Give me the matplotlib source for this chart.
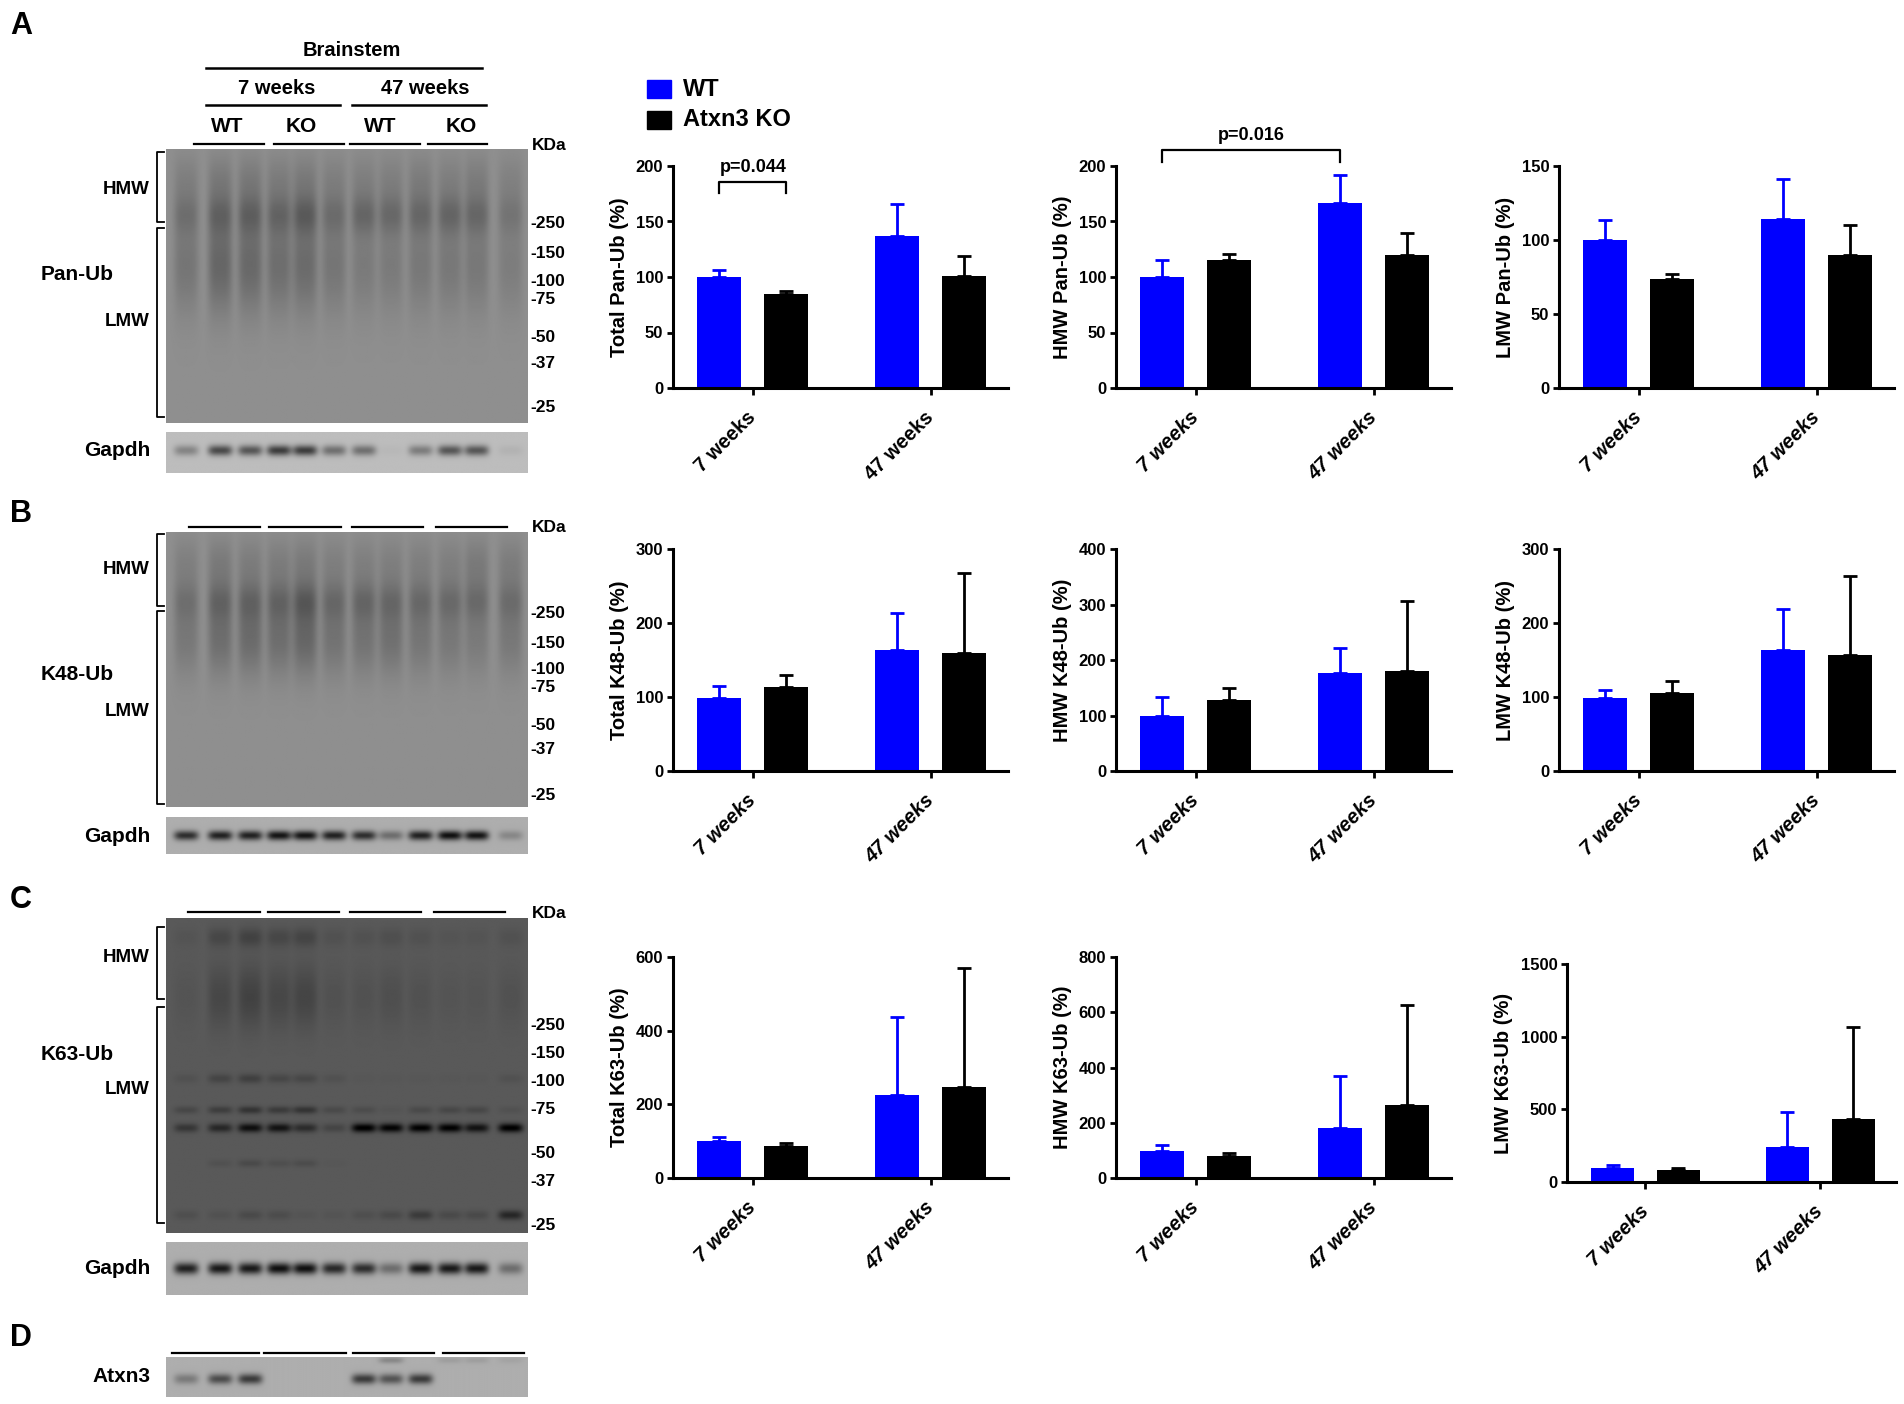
import numpy as np
import matplotlib
matplotlib.use("Agg")
import matplotlib.pyplot as plt

plt.rcParams['font.family'] = ['Liberation Sans', 'DejaVu Sans']
plt.rcParams['font.weight'] = 'bold'
plt.rcParams['axes.labelweight'] = 'bold'

W, H = 1904, 1404

# ---- chart data (mean, upper SEM) ----
ages = ['7 weeks', '47 weeks']

pan_total_wt = [100, 137]
pan_total_wt_err = [6, 29]
pan_total_ko = [85, 101]
pan_total_ko_err = [2.5, 18]

pan_hmw_wt = [100, 167]
pan_hmw_wt_err = [15, 25]
pan_hmw_ko = [115, 120]
pan_hmw_ko_err = [5.5, 19.5]

pan_lmw_wt = [100, 114]
pan_lmw_wt_err = [13.5, 27]
pan_lmw_ko = [73.5, 90]
pan_lmw_ko_err = [3.5, 20]

k48_total_wt = [99, 163]
k48_total_wt_err = [16, 51]
k48_total_ko = [114, 160]
k48_total_ko_err = [16, 108]

k48_hmw_wt = [99, 176]
k48_hmw_wt_err = [34, 45]
k48_hmw_ko = [128, 180]
k48_hmw_ko_err = [22, 127]

k48_lmw_wt = [98, 163]
k48_lmw_wt_err = [12, 56]
k48_lmw_ko = [106, 157]
k48_lmw_ko_err = [16, 106]

k63_total_wt = [101, 224]
k63_total_wt_err = [11, 212]
k63_total_ko = [87, 247]
k63_total_ko_err = [9, 324]

k63_hmw_wt = [99, 181]
k63_hmw_wt_err = [21, 189]
k63_hmw_ko = [79, 264]
k63_hmw_ko_err = [11, 364]

k63_lmw_wt = [99, 239]
k63_lmw_wt_err = [21, 241]
k63_lmw_ko = [83, 432]
k63_lmw_ko_err = [12, 636]

# ---- blot lane intensities (12 lanes: WT x3, KO x3 at 7w, WT x3, KO x3 at 47w) ----
lane_x = [0.055, 0.149, 0.232, 0.312, 0.384, 0.464, 0.547, 0.622, 0.704, 0.785, 0.859, 0.953]
mw_labels = ['-250', '-150', '-100', '-75', '-50', '-37', '-25']

pan_smear = [0.10, 0.16, 0.15, 0.13, 0.14, 0.10, 0.08, 0.08, 0.09, 0.09, 0.09, 0.07]
pan_hmw_band = [0.08, 0.11, 0.12, 0.11, 0.14, 0.09, 0.12, 0.11, 0.11, 0.12, 0.11, 0.07]
pan_top = [0.06, 0.08, 0.08, 0.07, 0.08, 0.06, 0.06, 0.06, 0.07, 0.06, 0.07, 0.05]
gapdh_a = [0.22, 0.45, 0.40, 0.50, 0.50, 0.30, 0.30, 0.02, 0.25, 0.40, 0.40, 0.04]

k48_smear = [0.09, 0.13, 0.14, 0.13, 0.16, 0.11, 0.11, 0.12, 0.10, 0.09, 0.08, 0.09]
k48_hmw_band = [0.08, 0.11, 0.11, 0.11, 0.14, 0.10, 0.11, 0.10, 0.10, 0.10, 0.10, 0.09]
k48_top = [0.06, 0.08, 0.07, 0.07, 0.08, 0.06, 0.06, 0.06, 0.06, 0.06, 0.08, 0.07]
gapdh_b = [0.50, 0.55, 0.55, 0.60, 0.60, 0.55, 0.50, 0.25, 0.55, 0.62, 0.60, 0.15]

k63_62 = [0.14, 0.20, 0.30, 0.28, 0.18, 0.08, 0.36, 0.34, 0.35, 0.35, 0.28, 0.36]
k63_75 = [0.07, 0.11, 0.15, 0.12, 0.15, 0.06, 0.05, 0.02, 0.06, 0.07, 0.07, 0.03]
k63_100 = [0.03, 0.08, 0.10, 0.07, 0.07, 0.03, 0.01, 0.01, 0.01, 0.01, 0.01, 0.03]
k63_45 = [0.00, 0.03, 0.06, 0.04, 0.05, 0.01, 0.00, 0.00, 0.00, 0.00, 0.00, 0.00]
k63_25 = [0.04, 0.03, 0.06, 0.05, 0.02, 0.02, 0.04, 0.06, 0.12, 0.06, 0.06, 0.20]
k63_hmw = [0.02, 0.07, 0.09, 0.07, 0.08, 0.03, 0.03, 0.04, 0.03, 0.02, 0.02, 0.03]
gapdh_c = [0.55, 0.58, 0.58, 0.62, 0.62, 0.52, 0.50, 0.25, 0.58, 0.58, 0.58, 0.25]

atxn3_main = [0.20, 0.38, 0.45, 0.0, 0.0, 0.0, 0.45, 0.35, 0.45, 0.0, 0.0, 0.0]
atxn3_upper = [0.0, 0.0, 0.0, 0.0, 0.0, 0.0, 0.0, 0.15, 0.0, 0.06, 0.06, 0.04]

fig = plt.figure(figsize=(W / 100, H / 100), dpi=100)

# canvas in pixel coordinates for blots and labels
cv = fig.add_axes([0, 0, 1, 1])
cv.set_xlim(0, W)
cv.set_ylim(H, 0)
cv.axis('off')


def blot(x0, y0, x1, y1, bg, layers):
    ys = np.linspace(0, 1, 260)[:, None]
    xs = np.linspace(0, 1, 380)[None, :]
    img = np.full((260, 380), bg)
    for yc, th, amps in layers:
        for xc, a in zip(lane_x, amps):
            img = img - a * np.exp(-((xs - xc) / 0.034) ** 4) * np.exp(-((ys - yc) / th) ** 2)
    cv.imshow(np.clip(img, 0, 1), cmap='gray', vmin=0, vmax=1,
              extent=(x0, x1, y1, y0), aspect='auto', interpolation='bilinear', zorder=1)


def bracket(x, y0, y1):
    cv.plot([x + 7, x, x, x + 7], [y0, y0, y1, y1], color='black', lw=1.3, zorder=3)


def mw(ys):
    for lab, y in zip(mw_labels, ys):
        cv.text(530, y, lab, fontsize=12.5, ha='left', va='center')


def lane_lines(y, spans):
    for a, b in spans:
        cv.plot([a, b], [y, y], color='black', lw=1.6)


# ---- panel A blot ----
cv.text(10, 26, 'A', fontsize=22, ha='left', va='center')
cv.text(352, 50, 'Brainstem', fontsize=14.5, ha='center', va='center')
cv.plot([206, 482], [68, 68], color='black', lw=1.8)
cv.text(277, 88, '7 weeks', fontsize=14.5, ha='center', va='center')
cv.text(425, 88, '47 weeks', fontsize=14.5, ha='center', va='center')
cv.plot([206, 340], [105, 105], color='black', lw=1.8)
cv.plot([352, 486], [105, 105], color='black', lw=1.8)
for lab, x in zip(['WT', 'KO', 'WT', 'KO'], [227, 301, 380, 461]):
    cv.text(x, 126, lab, fontsize=15, ha='center', va='center')
lane_lines(144, [(194, 264), (274, 344), (350, 420), (428, 487)])
cv.text(532, 145, 'KDa', fontsize=12.5, ha='left', va='center')
blot(166, 149, 528, 423, 0.56,
     [(0.12, 0.10, pan_top), (0.24, 0.07, pan_hmw_band), (0.42, 0.18, pan_smear)])
blot(166, 432, 528, 473, 0.74, [(0.45, 0.13, gapdh_a)])
bracket(157, 152, 222)
bracket(157, 228, 417)
cv.text(150, 190, 'HMW', fontsize=13.5, ha='right', va='center')
cv.text(150, 322, 'LMW', fontsize=13.5, ha='right', va='center')
cv.text(41, 275, 'Pan-Ub', fontsize=15, ha='left', va='center')
cv.text(150, 451, 'Gapdh', fontsize=15, ha='right', va='center')
mw([224, 254, 282, 300, 337, 363, 407])

# ---- panel B blot ----
cv.text(10, 514, 'B', fontsize=22, ha='left', va='center')
lane_lines(527, [(189, 260), (269, 341), (352, 423), (436, 507)])
cv.text(532, 528, 'KDa', fontsize=12.5, ha='left', va='center')
blot(166, 532, 528, 807, 0.56,
     [(0.12, 0.10, k48_top), (0.25, 0.07, k48_hmw_band), (0.38, 0.14, k48_smear)])
blot(166, 817, 528, 854, 0.68, [(0.5, 0.13, gapdh_b)])
bracket(157, 534, 606)
bracket(157, 611, 804)
cv.text(150, 570, 'HMW', fontsize=13.5, ha='right', va='center')
cv.text(150, 712, 'LMW', fontsize=13.5, ha='right', va='center')
cv.text(41, 675, 'K48-Ub', fontsize=15, ha='left', va='center')
cv.text(150, 836, 'Gapdh', fontsize=15, ha='right', va='center')
mw([613, 643, 670, 687, 725, 750, 795])

# ---- panel C blot ----
cv.text(10, 900, 'C', fontsize=22, ha='left', va='center')
lane_lines(912, [(188, 260), (268, 339), (350, 421), (434, 505)])
cv.text(532, 914, 'KDa', fontsize=12.5, ha='left', va='center')
blot(166, 918, 528, 1233, 0.35,
     [(0.06, 0.03, k63_hmw), (0.25, 0.10, k63_hmw), (0.51, 0.015, k63_100),
      (0.61, 0.012, k63_75), (0.667, 0.014, k63_62), (0.78, 0.012, k63_45),
      (0.945, 0.015, k63_25)])
blot(166, 1242, 528, 1295, 0.68, [(0.5, 0.11, gapdh_c)])
bracket(157, 927, 999)
bracket(157, 1007, 1223)
cv.text(150, 957, 'HMW', fontsize=13.5, ha='right', va='center')
cv.text(150, 1090, 'LMW', fontsize=13.5, ha='right', va='center')
cv.text(41, 1055, 'K63-Ub', fontsize=15, ha='left', va='center')
cv.text(150, 1268, 'Gapdh', fontsize=15, ha='right', va='center')
mw([1025, 1053, 1082, 1109, 1153, 1182, 1225])

# ---- panel D blot ----
cv.text(10, 1338, 'D', fontsize=22, ha='left', va='center')
lane_lines(1353, [(172, 259), (264, 346), (353, 434), (443, 524)])
blot(166, 1357, 528, 1397, 0.68, [(0.08, 0.08, atxn3_upper), (0.55, 0.13, atxn3_main)])
cv.text(150, 1377, 'Atxn3', fontsize=15, ha='right', va='center')

# ---- legend ----
cv.add_patch(plt.Rectangle((647, 80), 24, 18, color='#0000ff'))
cv.add_patch(plt.Rectangle((647, 111), 24, 18, color='black'))
cv.text(683, 89, 'WT', fontsize=17, ha='left', va='center')
cv.text(683, 120, 'Atxn3 KO', fontsize=17, ha='left', va='center')

# ---- bar charts ----
charts = [
    ('Total Pan-Ub (%)', pan_total_wt, pan_total_wt_err, pan_total_ko, pan_total_ko_err, 200, 50),
    ('HMW Pan-Ub (%)', pan_hmw_wt, pan_hmw_wt_err, pan_hmw_ko, pan_hmw_ko_err, 200, 50),
    ('LMW Pan-Ub (%)', pan_lmw_wt, pan_lmw_wt_err, pan_lmw_ko, pan_lmw_ko_err, 150, 50),
    ('Total K48-Ub (%)', k48_total_wt, k48_total_wt_err, k48_total_ko, k48_total_ko_err, 300, 100),
    ('HMW K48-Ub (%)', k48_hmw_wt, k48_hmw_wt_err, k48_hmw_ko, k48_hmw_ko_err, 400, 100),
    ('LMW K48-Ub (%)', k48_lmw_wt, k48_lmw_wt_err, k48_lmw_ko, k48_lmw_ko_err, 300, 100),
    ('Total K63-Ub (%)', k63_total_wt, k63_total_wt_err, k63_total_ko, k63_total_ko_err, 600, 200),
    ('HMW K63-Ub (%)', k63_hmw_wt, k63_hmw_wt_err, k63_hmw_ko, k63_hmw_ko_err, 800, 200),
    ('LMW K63-Ub (%)', k63_lmw_wt, k63_lmw_wt_err, k63_lmw_ko, k63_lmw_ko_err, 1500, 500),
]
rows_px = [(166, 388), (549, 771), (957, 1178)]
cols_px = [673, 1116, 1559]

axes = []
for i, (ylab, wt, wte, ko, koe, ymax, step) in enumerate(charts):
    r, c = divmod(i, 3)
    top, bot = rows_px[r]
    left, width = cols_px[c], 335
    labx = -0.13
    if i == 8:
        top, bot, left, width = 964, 1182, 1567, 329
        labx = -0.165
    ax = fig.add_axes([left / W, 1 - bot / H, width / W, (bot - top) / H])
    x = np.arange(len(ages))
    ax.bar(x - 0.188, wt, 0.247, color='#0000ff', zorder=2)
    ax.bar(x + 0.188, ko, 0.247, color='black', zorder=2)
    ax.errorbar(x - 0.188, wt, yerr=[np.zeros(2), wte], fmt='none', ecolor='#0000ff',
                elinewidth=2, capsize=5, capthick=2, zorder=1, clip_on=False)
    ax.errorbar(x + 0.188, ko, yerr=[np.zeros(2), koe], fmt='none', ecolor='black',
                elinewidth=2, capsize=5, capthick=2, zorder=1, clip_on=False)
    ax.set_xlim(-0.449, 1.433)
    ax.set_ylim(0, ymax)
    ax.set_yticks(np.arange(0, ymax + 1, step))
    ax.set_xticks(x)
    ax.set_xticklabels(ages, rotation=45, ha='right', va='center', rotation_mode='anchor',
                       fontsize=14.5, fontweight='bold',
                       style='normal' if i == 0 else 'italic')
    for t in ax.get_yticklabels():
        t.set_fontweight('bold')
    ax.tick_params(axis='x', length=5, width=2, pad=14)
    ax.tick_params(axis='y', length=4, width=2, labelsize=12, pad=3)
    for s in ['top', 'right']:
        ax.spines[s].set_visible(False)
    for s in ['left', 'bottom']:
        ax.spines[s].set_linewidth(2.2)
    ax.set_ylabel(ylab, fontsize=14.5, fontweight='bold')
    ax.yaxis.set_label_coords(labx, 0.5)
    ax.patch.set_alpha(0)
    axes.append(ax)

# significance brackets
a1 = axes[0]
a1.plot([-0.188, -0.188, 0.188, 0.188], [176, 185.5, 185.5, 176], color='black', lw=1.6, clip_on=False)
a1.text(0, 199, 'p=0.044', fontsize=13, ha='center', va='center')
a2 = axes[1]
a2.plot([-0.188, -0.188, 0.812, 0.812], [204, 214, 214, 204], color='black', lw=1.6, clip_on=False)
a2.text(0.31, 227.5, 'p=0.016', fontsize=13, ha='center', va='center')

fig.savefig('out.png', dpi=100)
